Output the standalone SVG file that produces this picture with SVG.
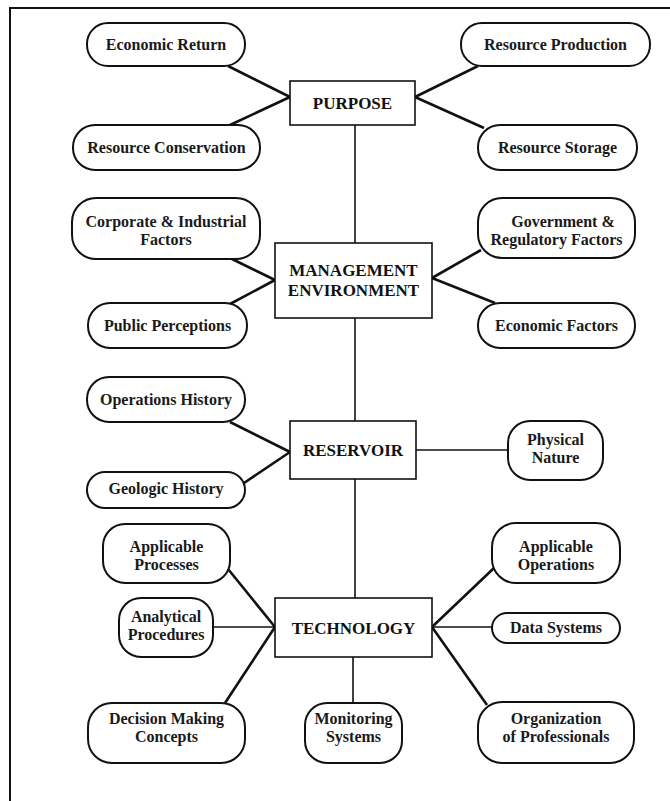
<svg xmlns="http://www.w3.org/2000/svg" width="670" height="801" viewBox="0 0 670 801">
<style>
  .n { fill: #fff; stroke: #111; stroke-width: 2; }
  .b { fill: #fff; stroke: #111; stroke-width: 1.6; }
  .t { font-family: "Liberation Serif", "Times New Roman", serif; font-weight: bold; font-size: 16px; fill: #1a1a1a; text-anchor: middle; }
  .h { font-family: "Liberation Serif", "Times New Roman", serif; font-weight: bold; font-size: 17px; fill: #111; text-anchor: middle; }
  .c { fill: none; stroke: #111; stroke-width: 2.6; }
  .ct { fill: none; stroke: #111; stroke-width: 1.6; }
</style>
<rect width="670" height="801" fill="#fff"/>
<path d="M10,801 V8 H670" fill="none" stroke="#111" stroke-width="2"/>
<g id="connectors">
  <line class="c" x1="228" y1="66" x2="290" y2="97"/>
  <line class="c" x1="230" y1="125" x2="290" y2="97"/>
  <line class="c" x1="415" y1="97" x2="478" y2="66"/>
  <line class="c" x1="415" y1="97" x2="484" y2="128"/>
  <line class="ct" x1="355" y1="125" x2="355" y2="243"/>
  <line class="c" x1="232" y1="259" x2="275" y2="280"/>
  <line class="c" x1="230" y1="304" x2="275" y2="280"/>
  <line class="c" x1="432" y1="278" x2="481" y2="250"/>
  <line class="c" x1="432" y1="278" x2="495" y2="303"/>
  <line class="ct" x1="355" y1="318" x2="355" y2="421"/>
  <line class="c" x1="230" y1="422" x2="290" y2="452"/>
  <line class="c" x1="244" y1="483" x2="290" y2="452"/>
  <line class="ct" x1="416" y1="450" x2="508" y2="450"/>
  <line class="ct" x1="355" y1="479" x2="355" y2="598"/>
  <line class="c" x1="228" y1="569" x2="275" y2="627"/>
  <line class="ct" x1="213" y1="627" x2="275" y2="627"/>
  <line class="c" x1="225" y1="703" x2="275" y2="627"/>
  <line class="ct" x1="353" y1="657" x2="353" y2="703"/>
  <line class="c" x1="432" y1="627" x2="494" y2="568"/>
  <line class="ct" x1="432" y1="627" x2="492" y2="627"/>
  <line class="c" x1="432" y1="627" x2="487" y2="705"/>
</g>
<g id="purpose"><rect class="b" x="290" y="81" width="125" height="44"/><text class="h" x="352.5" y="109">PURPOSE</text></g>
<g id="economic-return"><rect class="n" x="87" y="23" width="158" height="43" rx="21"/><text class="t" x="166" y="50">Economic Return</text></g>
<g id="resource-conservation"><rect class="n" x="73" y="125" width="187" height="45" rx="22"/><text class="t" x="166.5" y="153">Resource Conservation</text></g>
<g id="resource-production"><rect class="n" x="461" y="23" width="189" height="43" rx="21"/><text class="t" x="555.5" y="50">Resource Production</text></g>
<g id="resource-storage"><rect class="n" x="478" y="125" width="159" height="45" rx="22"/><text class="t" x="557.5" y="153">Resource Storage</text></g>
<g id="management-environment"><rect class="b" x="275" y="243" width="157" height="75"/><text class="h" x="353.5" y="276">MANAGEMENT</text><text class="h" x="353.5" y="296">ENVIRONMENT</text></g>
<g id="corporate-industrial"><rect class="n" x="72" y="198" width="188" height="61" rx="24"/><text class="t" x="166" y="227">Corporate &amp; Industrial</text><text class="t" x="166" y="245">Factors</text></g>
<g id="public-perceptions"><rect class="n" x="88" y="303" width="159" height="45" rx="22"/><text class="t" x="167.5" y="331">Public Perceptions</text></g>
<g id="government-regulatory"><rect class="n" x="478" y="198" width="157" height="60" rx="24"/><text class="t" x="563" y="227">Government &amp;</text><text class="t" x="556.5" y="245">Regulatory Factors</text></g>
<g id="economic-factors"><rect class="n" x="478" y="303" width="157" height="45" rx="22"/><text class="t" x="556.5" y="331">Economic Factors</text></g>
<g id="reservoir"><rect class="b" x="290" y="421" width="126" height="58"/><text class="h" x="353" y="456">RESERVOIR</text></g>
<g id="operations-history"><rect class="n" x="87" y="377" width="158" height="45" rx="22"/><text class="t" x="166" y="405">Operations History</text></g>
<g id="geologic-history"><rect class="n" x="87" y="472" width="158" height="36" rx="18"/><text class="t" x="166" y="494">Geologic History</text></g>
<g id="physical-nature"><rect class="n" x="508" y="421" width="95" height="59" rx="22"/><text class="t" x="555.5" y="445">Physical</text><text class="t" x="555.5" y="463">Nature</text></g>
<g id="technology"><rect class="b" x="275" y="598" width="157" height="59"/><text class="h" x="353.5" y="634">TECHNOLOGY</text></g>
<g id="applicable-processes"><rect class="n" x="103" y="524" width="127" height="59" rx="22"/><text class="t" x="166.5" y="552">Applicable</text><text class="t" x="166.5" y="570">Processes</text></g>
<g id="analytical-procedures"><rect class="n" x="119" y="598" width="94" height="59" rx="22"/><text class="t" x="166" y="622">Analytical</text><text class="t" x="166" y="640">Procedures</text></g>
<g id="decision-making"><rect class="n" x="88" y="703" width="157" height="60" rx="24"/><text class="t" x="166.5" y="724">Decision Making</text><text class="t" x="166.5" y="742">Concepts</text></g>
<g id="monitoring-systems"><rect class="n" x="305" y="703" width="97" height="60" rx="22"/><text class="t" x="353.5" y="724">Monitoring</text><text class="t" x="353.5" y="742">Systems</text></g>
<g id="applicable-operations"><rect class="n" x="492" y="523" width="128" height="60" rx="24"/><text class="t" x="556" y="552">Applicable</text><text class="t" x="556" y="570">Operations</text></g>
<g id="data-systems"><rect class="n" x="492" y="613" width="128" height="30" rx="15"/><text class="t" x="556" y="633">Data Systems</text></g>
<g id="organization-professionals"><rect class="n" x="478" y="702" width="156" height="61" rx="24"/><text class="t" x="556" y="724">Organization</text><text class="t" x="556" y="742">of Professionals</text></g>
</svg>
